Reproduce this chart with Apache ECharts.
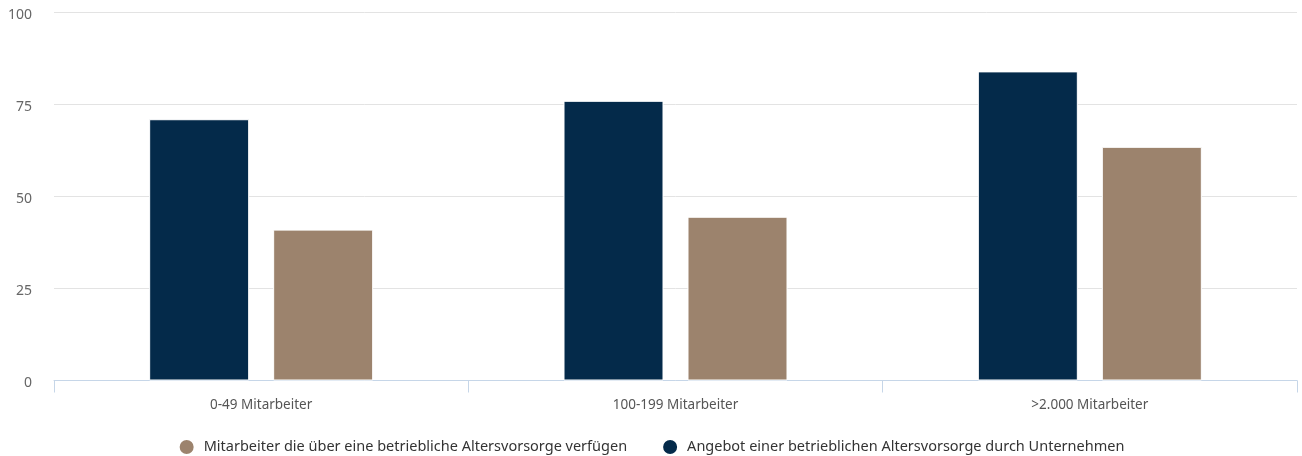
<!DOCTYPE html>
<html>
<head>
<meta charset="utf-8">
<script src="https://cdn.jsdelivr.net/npm/echarts@6/dist/echarts.min.js"></script>
<style>
  html, body { margin: 0; padding: 0; background: #fff; }
  #chart { width: 1302px; height: 456px; }
</style>
</head>
<body>
<div id="chart"></div>
<script>
// Company size groups on the x axis
const categories = ['0-49 Mitarbeiter', '100-199 Mitarbeiter', '>2.000 Mitarbeiter'];

// Share of companies offering a company pension scheme (%)
const angebotValues = [71, 76, 84];
// Share of employees who have a company pension (%)
const mitarbeiterValues = [41, 44.5, 63.5];

const angebotName = 'Angebot einer betrieblichen Altersvorsorge durch Unternehmen';
const mitarbeiterName = 'Mitarbeiter die über eine betriebliche Altersvorsorge verfügen';

const yTicks = { min: 0, max: 100, interval: 25 };

const fontFamily = '"Noto Sans", "Open Sans", sans-serif';

const chart = echarts.init(document.getElementById('chart'));
chart.setOption({
  animation: false,
  textStyle: { fontFamily: fontFamily },
  grid: { left: 54, right: 5, top: 12.5, bottom: 75.5, containLabel: false },
  legend: {
    data: [
      { name: mitarbeiterName, icon: 'circle' },
      { name: angebotName, icon: 'circle' }
    ],
    top: 433,
    left: 'center',
    itemWidth: 24,
    itemHeight: 16,
    itemGap: 34,
    textStyle: { color: '#333', fontSize: 14.5, fontFamily: fontFamily }
  },
  xAxis: {
    type: 'category',
    data: categories,
    axisLine: { lineStyle: { color: '#c6d6e8', width: 1 } },
    axisTick: { show: true, length: 12, lineStyle: { color: '#c6d6e8' } },
    axisLabel: { color: '#555', fontSize: 13.5, margin: 18, fontFamily: fontFamily }
  },
  yAxis: {
    type: 'value',
    min: yTicks.min,
    max: yTicks.max,
    interval: yTicks.interval,
    axisLine: { show: false },
    axisTick: { show: false },
    splitLine: { lineStyle: { color: '#e3e3e3', width: 1 } },
    axisLabel: {
      color: '#666', fontSize: 14, margin: 22,
      verticalAlign: 'top', lineHeight: 5,
      fontFamily: fontFamily
    }
  },
  series: [
    {
      name: angebotName,
      type: 'bar',
      data: angebotValues,
      barWidth: 100,
      barGap: '24%',
      itemStyle: { color: '#042a4a', borderColor: '#fff', borderWidth: 1 }
    },
    {
      name: mitarbeiterName,
      type: 'bar',
      data: mitarbeiterValues,
      barWidth: 100,
      itemStyle: { color: '#9c836d', borderColor: '#fff', borderWidth: 1 }
    }
  ]
});
</script>
</body>
</html>
